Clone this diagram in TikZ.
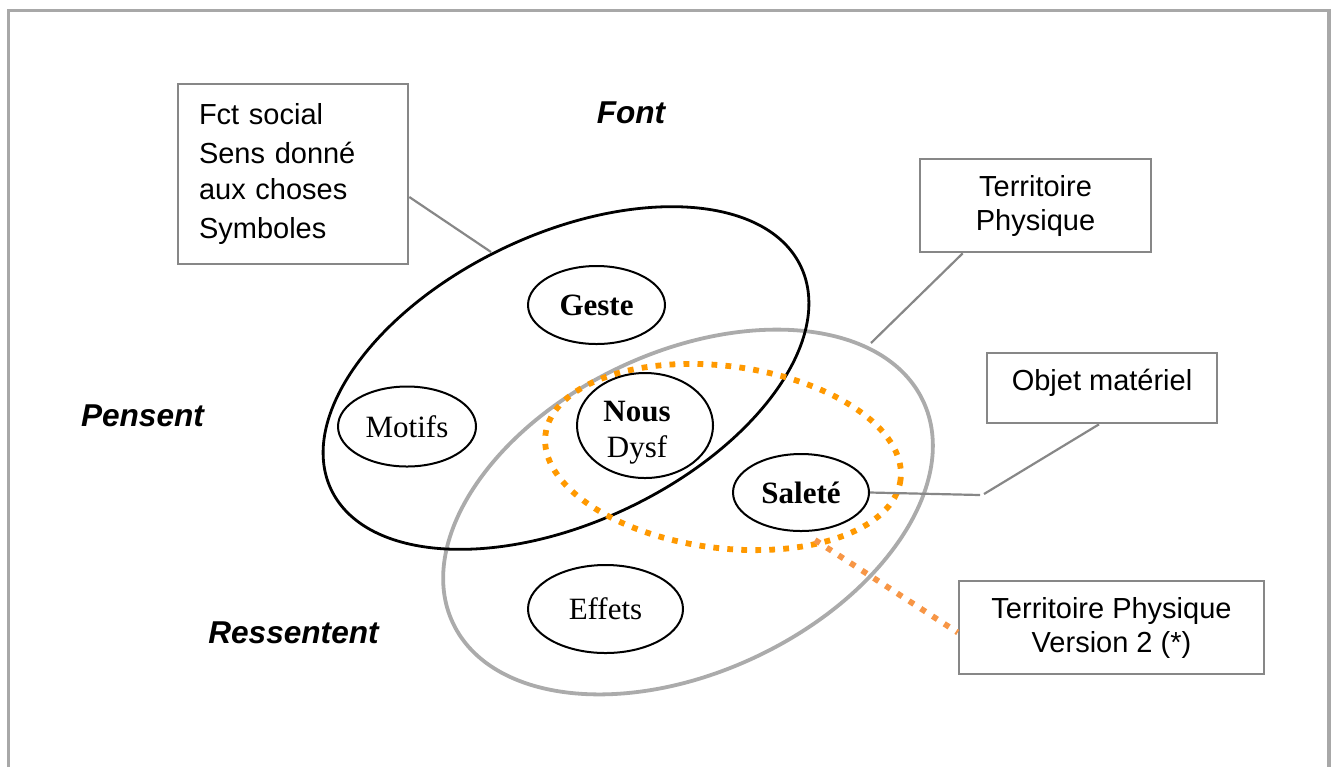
\documentclass[tikz,border=0pt]{standalone}
\usepackage{fontspec}
\setmainfont{Liberation Serif}
\setsansfont{Liberation Sans}
\usetikzlibrary{shapes.geometric,calc}
\definecolor{framegray}{HTML}{A8A8A8}
\definecolor{linegray}{HTML}{878787}
\definecolor{ringgray}{HTML}{ABABAB}
\definecolor{dotorange}{HTML}{FF9900}
\definecolor{linkorange}{HTML}{F79646}
\begin{document}
\begin{tikzpicture}[x=0.5pt,y=-0.5pt,
  box/.style={draw=linegray, line width=1.3pt, rectangle, inner sep=0pt,
    align=center, font=\sffamily\fontsize{14.5}{17}\selectfont},
  oval/.style={draw=black, line width=1pt, ellipse, inner sep=0pt,
    align=center, font=\fontsize{15.5}{18}\selectfont},
  verbword/.style={anchor=base, font=\sffamily\bfseries\itshape\fontsize{15.8}{19}\selectfont},
  link/.style={draw=linegray, line width=1.1pt},
  ringdots/.style={line width=2.9pt, dash pattern=on 2.9pt off 4.1pt}]
\useasboundingbox (0,0) rectangle (1336,767);

% page frame (open at the bottom)
\draw[framegray, line width=1.8pt] (8.5,767) -- (8.5,10.5) -- (1329,10.5) -- (1329,767);

% the two large overlapping domains
\draw[ringgray, line width=1.9pt, rotate around={25.3:(688,512)}]
  (688,512) ellipse [x radius=260, y radius=160];
\draw[black, line width=1.4pt, rotate around={25.4:(566,378)}]
  (566,378) ellipse [x radius=260, y radius=144];
% physical territory, second version
\draw[ringdots, dotorange, rotate around={-7.3:(723,457)}]
  (723,457) ellipse [x radius=179, y radius=91];

% verbs
\node[verbword] (font) at (631,123) {Font};
\node[verbword] (pensent) at (142.5,426.7) {Pensent};
\node[verbword] (ressentent) at (293.5,643) {Ressentent};

% inner items
\node[oval, minimum width=68.5pt, minimum height=39pt] (geste) at (596.5,305) {\textbf{Geste}};
\node[oval, minimum width=69pt, minimum height=40pt] (motifs) at (407,426.5) {Motifs};
\node[oval, minimum width=68pt, minimum height=52.5pt,
  label={[align=center, font=\fontsize{15.5}{18}\selectfont, yshift=-3.5pt, xshift=-4pt]center:{\textbf{Nous}\\Dysf}}]
  (nous) at (645,425.5) {};
\node[oval, minimum width=68pt, minimum height=38.5pt] (salete) at (801,492.5) {\textbf{Saleté}};
\node[oval, minimum width=77.5pt, minimum height=44pt] (effets) at (605.5,609) {Effets};

% callout boxes
\node[box, align=left, text width=94pt, inner xsep=10.5pt, minimum height=90pt,
  font=\sffamily\fontsize{14.5}{18.3}\selectfont] (fct) at (293,174)
  {Fct social\\[1.2pt]Sens donné\\aux choses\\[1.2pt]Symboles};
\node[box, minimum width=115.5pt, minimum height=46.5pt] (terr) at (1035.5,205.5)
  {Territoire\\Physique};
\node[box, minimum width=115pt, minimum height=35pt, text height=10.5pt, text depth=8.5pt]
  (objet) at (1102,388) {Objet matériel};
\node[box, minimum width=152.5pt, minimum height=46.5pt] (terrb) at (1111.5,627.5)
  {Territoire Physique\\Version 2 (*)};

% connector ends
\coordinate (onblack) at (491,252);
\coordinate (ongray) at (871,343);
\coordinate (elbowa) at (980,495);
\coordinate (elbowb) at (984,494);
\coordinate (ondots) at (815,540);

% connectors
\draw[link] ($(fct.east)+(0,23)$) -- (onblack);
\draw[link] ($(terr.south west)+(44,0)$) -- (ongray);
\draw[link] (salete.east) -- (elbowa);
\draw[link] (elbowb) -- ($(objet.south)+(-3,0)$);
\draw[ringdots, linkorange] (ondots) -- ($(terrb.west)+(0,5)$);
\end{tikzpicture}
\end{document}
